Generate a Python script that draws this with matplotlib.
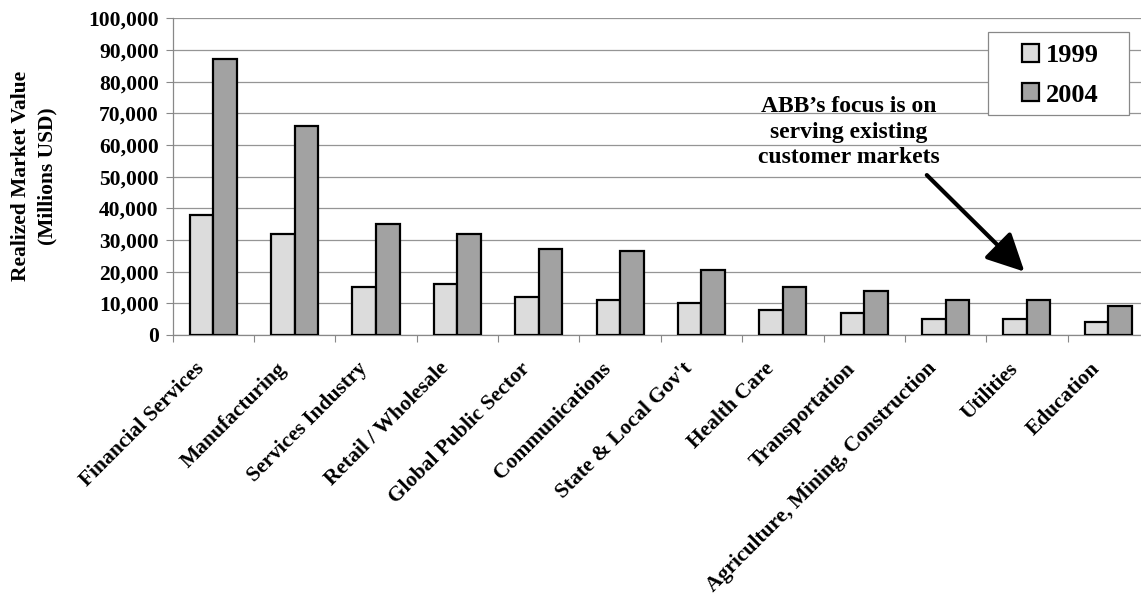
import matplotlib
matplotlib.use("Agg")
import matplotlib.pyplot as plt
import matplotlib.transforms as mtransforms
from matplotlib.patches import Rectangle
import numpy as np
from matplotlib.ticker import FuncFormatter, MultipleLocator, FixedLocator

# Realized market value by industry (millions USD)
industries = [
    "Financial Services", "Manufacturing", "Services Industry",
    "Retail / Wholesale", "Global Public Sector", "Communications",
    "State & Local Gov't", "Health Care", "Transportation",
    "Agriculture, Mining, Construction", "Utilities", "Education",
]
value_1999 = [38000, 32000, 15000, 16000, 12000, 11000, 10000, 8000, 7000, 5000, 5000, 4000]
value_2004 = [87000, 66000, 35000, 32000, 27000, 26500, 20500, 15000, 14000, 11000, 11000, 9000]
series_labels = ["1999", "2004"]

note_text = "ABB\u2019s focus is on\nserving existing\ncustomer markets"

plt.rcParams["font.family"] = ["Liberation Serif", "DejaVu Serif"]
plt.rcParams["font.weight"] = "bold"

fig = plt.figure(figsize=(11.41, 5.95), dpi=100)
fig.patch.set_facecolor("white")

W, H = 1141.0, 595.0
left_px, zero_px, top_px, cat_px = 172.7, 335.0, 18.3, 81.35
ax = fig.add_axes([left_px / W, 1 - zero_px / H,
                   12 * cat_px / W, (zero_px - top_px) / H])

x = np.arange(len(industries))
bw = 0.29
b1 = ax.bar(x - bw / 2, value_1999, bw, color="#dcdcdc", edgecolor="black",
            linewidth=1.6, label=series_labels[0], zorder=3)
b2 = ax.bar(x + bw / 2, value_2004, bw, color="#a2a2a2", edgecolor="black",
            linewidth=1.6, label=series_labels[1], zorder=3)

ax.set_xlim(-0.5, len(industries) - 0.5)
ax.set_ylim(0, 100000)

# y axis
ax.yaxis.set_major_locator(MultipleLocator(10000))
ax.yaxis.set_major_formatter(FuncFormatter(lambda v, p: f"{int(v):,}"))
ax.tick_params(axis="y", length=5, width=0.8, color="#888888", pad=5,
               labelsize=15.5)
ax.grid(axis="y", color="#959595", linewidth=0.9, zorder=0)

# x axis: labels under each group, tick marks between groups
ax.set_xticks(x)
ax.set_xticklabels(industries, rotation=45, ha="right", va="top",
                   rotation_mode="anchor", fontsize=15.5)
ax.tick_params(axis="x", which="major", length=0, pad=17)
ax.xaxis.set_minor_locator(FixedLocator(np.arange(-0.5, len(industries), 1.0)))
ax.tick_params(axis="x", which="minor", length=5, width=0.8, color="#888888")
shift = mtransforms.ScaledTranslation(-13.5 / 72, 0, fig.dpi_scale_trans)
for lbl in ax.get_xticklabels():
    lbl.set_transform(lbl.get_transform() + shift)

for side in ("top", "right"):
    ax.spines[side].set_visible(False)
for side in ("left", "bottom"):
    ax.spines[side].set_color("#888888")
    ax.spines[side].set_linewidth(0.9)

fig.text(34 / W, 1 - 176 / H, "Realized Market Value\n(Millions USD)",
         rotation=90, ha="center", va="center", multialignment="center",
         fontsize=15.5, fontweight="bold", linespacing=1.4)

# callout: white panel over the grid, text and arrow
ax.add_patch(Rectangle((5.77, 44000), 3.31, 42000, facecolor="white",
                       edgecolor="none", zorder=1))
ax.text(7.81, 64000, note_text, ha="center", va="center", fontsize=17,
        fontweight="bold", linespacing=1.27, zorder=5)
ax.annotate("", xy=(9.97, 20000), xytext=(8.77, 50500),
            arrowprops=dict(arrowstyle="-|>,head_length=2.3,head_width=1.15",
                            color="black", linewidth=3, shrinkA=0, shrinkB=0),
            zorder=6)

# legend: plain panel with the entries inset from its left edge
fig.patches.append(Rectangle((988 / W, 1 - 115 / H), 141 / W, 83 / H,
                             transform=fig.transFigure, facecolor="white",
                             edgecolor="#888888", linewidth=0.9, zorder=6))
leg = fig.legend(handles=[b1, b2], labels=series_labels, loc="upper left",
                 bbox_to_anchor=(1022 / W, 1 - 44 / H),
                 bbox_transform=fig.transFigure,
                 fontsize=19, frameon=False, handlelength=0.65,
                 handleheight=0.65, handletextpad=0.25, labelspacing=0.62,
                 borderpad=0, borderaxespad=0)
leg.set_zorder(7)

fig.savefig("out.png", dpi=100, facecolor="white")
